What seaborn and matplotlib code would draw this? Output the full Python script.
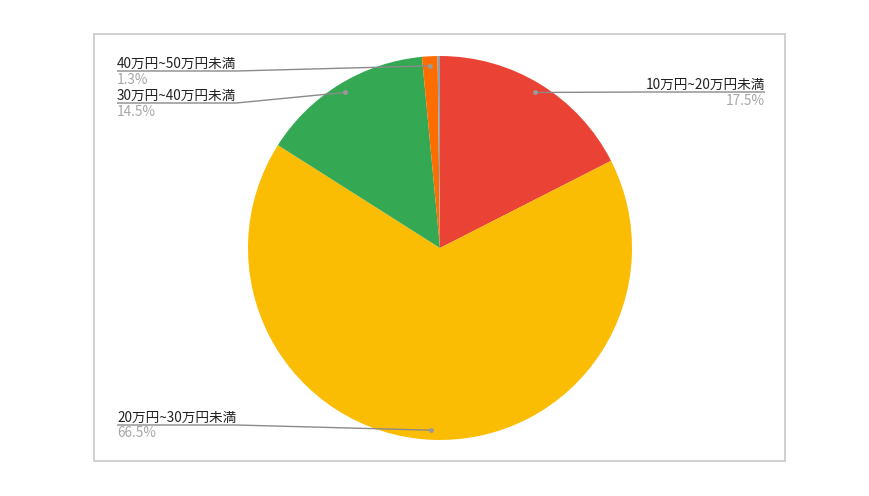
import numpy as np
import matplotlib.pyplot as plt
import seaborn as sns

# data
categories = ['10万円~20万円未満', '20万円~30万円未満', '30万円~40万円未満', '40万円~50万円未満', '50万円以上']
shares = [17.5, 66.5, 14.5, 1.3, 0.2]
pct_labels = ['17.5%', '66.5%', '14.5%', '1.3%', '']
colors = ['#EA4335', '#FBBC04', '#34A853', '#FF6D01', '#8EA3B0']

sns.set_style('white')
plt.rcParams['font.family'] = ['Noto Sans CJK JP', 'DejaVu Sans']

W, H = 870, 496
fig = plt.figure(figsize=(W / 100, H / 100), dpi=100)
ax = fig.add_axes([0, 0, 1, 1])

cx, cy, R = 440, H - 248, 192
wedges, _ = ax.pie(shares, colors=colors, startangle=90, counterclock=False,
                   center=(cx, cy), radius=R,
                   wedgeprops=dict(linewidth=0))
ax.set_xlim(0, W)
ax.set_ylim(0, H)
ax.set_aspect('equal')
ax.axis('off')

# frame around the chart area
ax.add_patch(plt.Rectangle((94, H - 461), 785 - 94, 461 - 34, fill=False,
                           edgecolor='#c8c8c8', linewidth=1.2))

# label layout: (x of text edge, underline y in px from top, alignment)
layout = [(765, 92, 'right'), (117, 425, 'left'), (117, 103, 'left'), (117, 71, 'left'), None]

fig.canvas.draw()
renderer = fig.canvas.get_renderer()
for w, name, pct, lay in zip(wedges, categories, pct_labels, layout):
    if lay is None:
        continue
    tx, ly, ha = lay
    ly = H - ly
    mid = np.deg2rad((w.theta1 + w.theta2) / 2)
    px, py = cx + 0.95 * R * np.cos(mid), cy + 0.95 * R * np.sin(mid)
    t = ax.text(tx, ly + 3, name, ha=ha, va='baseline', fontsize=9.8, color='#222222')
    ax.text(tx, ly - 1.5, pct, ha=ha, va='top', fontsize=9.8, color='#a6a6a6')
    bb = t.get_window_extent(renderer)
    if ha == 'left':
        xs = [bb.x0, bb.x1, px]
    else:
        xs = [bb.x1, bb.x0, px]
    ax.plot(xs, [ly, ly, py], color='#8a8a8a', linewidth=1, solid_capstyle='butt')
    ax.plot(px, py, 'o', color='#9a9a9a', markersize=2.5)

fig.savefig('out.png', dpi=100, facecolor='white')
